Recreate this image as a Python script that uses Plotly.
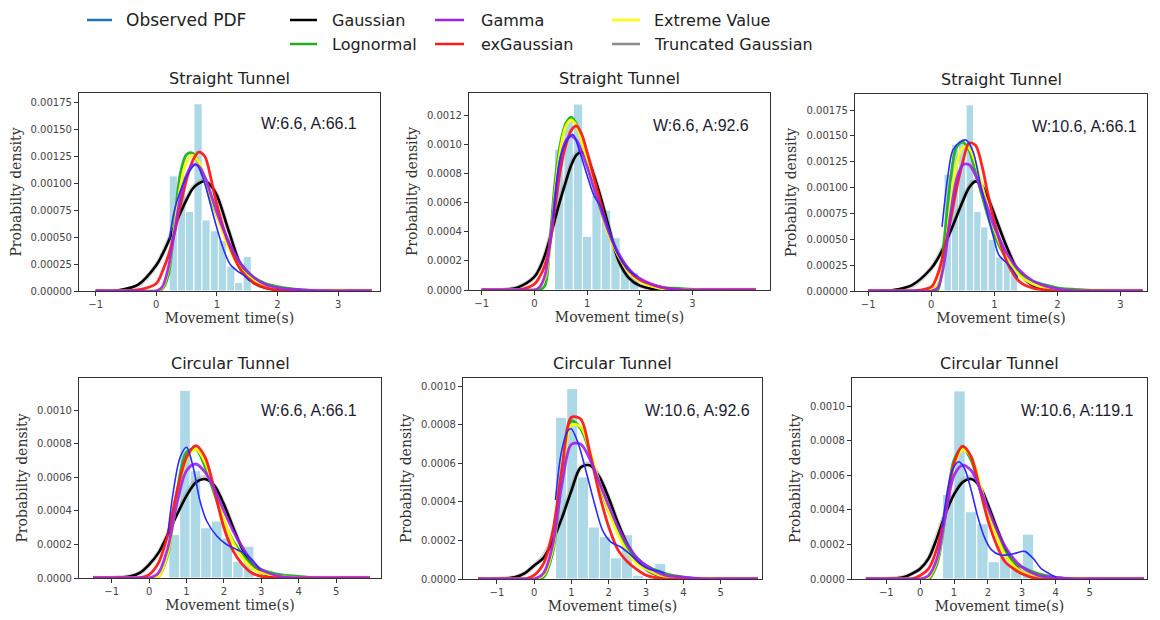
import plotly.graph_objects as go
from plotly.subplots import make_subplots

# ---------------- data ----------------
TITLES = ["Straight Tunnel", "Straight Tunnel", "Straight Tunnel",
          "Circular Tunnel", "Circular Tunnel", "Circular Tunnel"]
CONDITIONS = ["W:6.6, A:66.1", "W:6.6, A:92.6", "W:10.6, A:66.1",
              "W:6.6, A:66.1", "W:10.6, A:92.6", "W:10.6, A:119.1"]
LEGEND_ROW1 = ["Observed PDF", "Gaussian", "Gamma", "Extreme Value"]
LEGEND_ROW2 = ["Lognormal", "exGaussian", "Truncated Gaussian"]

# ---- panel 1 ----
P1_BIN_X = [0.28, 0.42, 0.55, 0.69, 0.82, 0.96, 1.09, 1.23, 1.36, 1.50]
P1_BIN_H = [0.00107, 0.00107, 0.00074, 0.00174, 0.00066, 0.00056, 0.00047, 0.00023, 0.00008, 0.00032]
P1_GRID = [-1.0, -0.6, -0.3, 0.0, 0.1, 0.2, 0.3, 0.4, 0.5, 0.6, 0.7, 0.8, 0.9, 1.0, 1.2, 1.4, 1.6, 1.8, 2.0, 2.4, 2.8, 3.2, 3.55]
P1_GAUSS = [0, 0.00001, 0.00006, 0.00024, 0.00034, 0.00046, 0.0006, 0.00073, 0.00085, 0.00095, 0.001, 0.00102, 0.00098, 0.00089, 0.00055, 0.00023, 0.00008, 0.00003, 0.00001, 0, 0, 0, 0]
P1_TRUNC = [0, 0, 0.00005, 0.00024, 0.00034, 0.00047, 0.00061, 0.00074, 0.00086, 0.00096, 0.00101, 0.00103, 0.00098, 0.00089, 0.00055, 0.00023, 0.00008, 0.00003, 0.00001, 0, 0, 0, 0]
P1_LOGN = [0, 0, 0, 0, 0.00002, 0.00015, 0.00064, 0.0011, 0.00127, 0.00128, 0.00119, 0.00102, 0.00085, 0.0007, 0.00043, 0.00024, 0.00013, 0.00007, 0.00004, 0.00001, 0, 0, 0]
P1_EXG = [0, 0, 0.00001, 0.00007, 0.00018, 0.00033, 0.00054, 0.0008, 0.00104, 0.00121, 0.00129, 0.00125, 0.00105, 0.0008, 0.00043, 0.00019, 0.00008, 0.00003, 0.00001, 0, 0, 0, 0]
P1_GAMMA = [0, 0, 0, 0, 0.00004, 0.00022, 0.00055, 0.00088, 0.00108, 0.00117, 0.00116, 0.00106, 0.0009, 0.00073, 0.00045, 0.00025, 0.00013, 0.00006, 0.00003, 0.00001, 0, 0, 0]
P1_EXTR = [0, 0, 0, 0, 0.00003, 0.0002, 0.00058, 0.00098, 0.0012, 0.00126, 0.0012, 0.00105, 0.00088, 0.0007, 0.0004, 0.0002, 0.0001, 0.00004, 0.00002, 0, 0, 0, 0]
P1_OBS_X = [0.215, 0.3, 0.39, 0.47, 0.556, 0.655, 0.776, 0.886, 0.997, 1.107, 1.216, 1.327, 1.436, 1.546]
P1_OBS_Y = [0.00048, 0.00075, 0.00092, 0.00103, 0.00112, 0.00118, 0.00104, 0.00082, 0.00059, 0.00039, 0.00025, 0.00019, 0.00015, 0.00009]

# ---- panel 2 ----
P2_BIN_X = [0.47, 0.65, 0.83, 1.00, 1.18, 1.36, 1.54, 1.72, 1.89]
P2_BIN_H = [0.00097, 0.00116, 0.00128, 0.00037, 0.00065, 0.00055, 0.00036, 0.00016, 0.00012]
P2_GRID = [-1.0, -0.6, -0.3, 0.0, 0.1, 0.2, 0.3, 0.4, 0.5, 0.6, 0.7, 0.8, 0.9, 1.0, 1.2, 1.4, 1.6, 1.8, 2.0, 2.4, 2.8, 3.2, 3.6, 4.2]
P2_GAUSS = [0, 0, 0.00002, 0.00009, 0.00015, 0.00024, 0.00036, 0.0005, 0.00063, 0.00075, 0.00086, 0.00093, 0.00095, 0.00091, 0.00071, 0.00045, 0.0002, 0.00008, 0.00003, 0, 0, 0, 0, 0]
P2_TRUNC = [0, 0, 0.00002, 0.00009, 0.00015, 0.00024, 0.00037, 0.00051, 0.00064, 0.00076, 0.00087, 0.00094, 0.00096, 0.00092, 0.00071, 0.00045, 0.0002, 0.00008, 0.00003, 0, 0, 0, 0, 0]
P2_LOGN = [0, 0, 0, 0, 0, 0.00003, 0.00036, 0.00077, 0.00102, 0.00115, 0.00119, 0.00114, 0.00103, 0.0009, 0.00063, 0.0004, 0.00024, 0.00014, 0.00007, 0.00002, 0.00001, 0, 0, 0]
P2_EXG = [0, 0, 0, 0.00004, 0.00009, 0.00017, 0.00033, 0.00059, 0.00084, 0.001, 0.0011, 0.00113, 0.00107, 0.00095, 0.00068, 0.00042, 0.00024, 0.00013, 0.00007, 0.00002, 0, 0, 0, 0]
P2_GAMMA = [0, 0, 0, 0, 0.00002, 0.0001, 0.00033, 0.00066, 0.00091, 0.00103, 0.00106, 0.00103, 0.00095, 0.00085, 0.00062, 0.00041, 0.00025, 0.00014, 0.00008, 0.00002, 0, 0, 0, 0]
P2_EXTR = [0, 0, 0, 0, 0.00002, 0.00008, 0.0003, 0.0007, 0.00098, 0.00113, 0.00117, 0.00113, 0.00102, 0.00089, 0.00062, 0.00039, 0.00023, 0.00012, 0.00006, 0.00001, 0, 0, 0, 0]
P2_OBS_X = [0.36, 0.49, 0.62, 0.73, 0.87, 1.0, 1.13, 1.25, 1.41, 1.57, 1.76, 1.95]
P2_OBS_Y = [0.00049, 0.00091, 0.00103, 0.00107, 0.00094, 0.00079, 0.00065, 0.00058, 0.00042, 0.00026, 0.00015, 0.00009]

# ---- panel 3 ----
P3_BIN_X = [0.26, 0.38, 0.49, 0.61, 0.73, 0.84, 0.96, 1.08, 1.20, 1.31]
P3_BIN_H = [0.00113, 0.00142, 0.00145, 0.0018, 0.00077, 0.00062, 0.0005, 0.00033, 0.00028, 0.00017]
P3_GRID = [-1.0, -0.6, -0.3, 0.0, 0.1, 0.2, 0.3, 0.4, 0.5, 0.6, 0.7, 0.8, 0.9, 1.0, 1.2, 1.4, 1.6, 1.8, 2.0, 2.4, 2.8, 3.1, 3.35]
P3_GAUSS = [0, 0.00001, 0.00006, 0.00022, 0.00031, 0.00043, 0.00057, 0.00072, 0.00087, 0.001, 0.00106, 0.00102, 0.0009, 0.00074, 0.00042, 0.00017, 0.00006, 0.00002, 0, 0, 0, 0, 0]
P3_TRUNC = [0, 0, 0.00005, 0.00022, 0.00032, 0.00044, 0.00058, 0.00073, 0.00088, 0.00101, 0.00107, 0.00103, 0.0009, 0.00074, 0.00042, 0.00017, 0.00006, 0.00002, 0, 0, 0, 0, 0]
P3_LOGN = [0, 0, 0, 0, 0.00001, 0.00047, 0.00106, 0.00139, 0.00144, 0.00136, 0.00115, 0.00093, 0.00072, 0.00054, 0.00031, 0.00018, 0.0001, 0.00006, 0.00003, 0.00001, 0, 0, 0]
P3_EXG = [0, 0, 0, 0.00004, 0.00016, 0.00038, 0.00067, 0.00099, 0.00125, 0.00143, 0.00141, 0.00122, 0.00093, 0.00067, 0.00028, 0.00009, 0.00003, 0.00001, 0, 0, 0, 0, 0]
P3_GAMMA = [0, 0, 0, 0, 0.00003, 0.00026, 0.00072, 0.00108, 0.00122, 0.00122, 0.00112, 0.00096, 0.00079, 0.00062, 0.00036, 0.0002, 0.0001, 0.00005, 0.00002, 0, 0, 0, 0]
P3_EXTR = [0, 0, 0, 0.00001, 0.00006, 0.0003, 0.00079, 0.00122, 0.00139, 0.00138, 0.00124, 0.00103, 0.0008, 0.0006, 0.00031, 0.00015, 0.00007, 0.00003, 0.00001, 0, 0, 0, 0]
P3_OBS_X = [0.17, 0.26, 0.34, 0.45, 0.55, 0.66, 0.77, 0.88, 0.99, 1.07, 1.18, 1.26, 1.37]
P3_OBS_Y = [0.00062, 0.0011, 0.00136, 0.00144, 0.00146, 0.00135, 0.00106, 0.00077, 0.00051, 0.00035, 0.00028, 0.00023, 0.00013]

# ---- panel 4 ----
P4_BIN_X = [0.67, 0.96, 1.24, 1.52, 1.81, 2.09, 2.38, 2.66]
P4_BIN_H = [0.00026, 0.00112, 0.00064, 0.0003, 0.00034, 0.00024, 0.0001, 0.00019]
P4_GRID = [-1.5, -1.0, -0.5, -0.25, 0.0, 0.25, 0.5, 0.75, 1.0, 1.25, 1.5, 1.75, 2.0, 2.25, 2.5, 2.75, 3.0, 3.5, 4.0, 4.5, 5.0, 5.9]
P4_GAUSS = [0, 0, 0.00001, 0.00003, 0.00008, 0.00015, 0.00026, 0.00038, 0.00049, 0.00057, 0.00059, 0.00055, 0.00044, 0.0003, 0.00017, 0.00008, 0.00003, 0, 0, 0, 0, 0]
P4_TRUNC = [0, 0, 0.00001, 0.00003, 0.00008, 0.00015, 0.00026, 0.00039, 0.0005, 0.00058, 0.0006, 0.00055, 0.00044, 0.0003, 0.00017, 0.00008, 0.00003, 0, 0, 0, 0, 0]
P4_LOGN = [0, 0, 0, 0, 0, 0.00001, 0.00014, 0.00052, 0.00075, 0.00077, 0.00066, 0.0005, 0.00034, 0.00022, 0.00014, 0.00008, 0.00005, 0.00002, 0.00001, 0, 0, 0]
P4_EXG = [0, 0, 0, 0, 0.00002, 0.00009, 0.00026, 0.00052, 0.00072, 0.00079, 0.00072, 0.00052, 0.0003, 0.00016, 0.00008, 0.00003, 0.00001, 0, 0, 0, 0, 0]
P4_GAMMA = [0, 0, 0, 0, 0, 0.00003, 0.00018, 0.00045, 0.00064, 0.00068, 0.00063, 0.00053, 0.0004, 0.00028, 0.00018, 0.0001, 0.00005, 0.00001, 0, 0, 0, 0]
P4_EXTR = [0, 0, 0, 0, 0, 0.00001, 0.00015, 0.00048, 0.00071, 0.00077, 0.00069, 0.00052, 0.00035, 0.00021, 0.00012, 0.00006, 0.00003, 0.00001, 0, 0, 0, 0]
P4_OBS_X = [0.5, 0.65, 0.83, 1.0, 1.18, 1.36, 1.54, 1.81, 2.07, 2.34, 2.61, 2.79, 2.97]
P4_OBS_Y = [0.00026, 0.00052, 0.00072, 0.00078, 0.00066, 0.00046, 0.00034, 0.00025, 0.0002, 0.00017, 0.00014, 0.0001, 0.00005]

# ---- panel 5 ----
P5_BIN_X = [0.72, 1.02, 1.31, 1.60, 1.90, 2.19, 2.49, 2.78, 3.08, 3.38]
P5_BIN_H = [0.00084, 0.00099, 0.00053, 0.00027, 0.00022, 0.00011, 0.00023, 0.00002, 0, 0.00008]
P5_GRID = [-1.5, -1.0, -0.5, -0.25, 0.0, 0.25, 0.5, 0.75, 1.0, 1.25, 1.5, 1.75, 2.0, 2.25, 2.5, 2.75, 3.0, 3.5, 4.0, 4.5, 5.0, 6.0]
P5_GAUSS = [0, 0, 0.00001, 0.00003, 0.00007, 0.00011, 0.0002, 0.00032, 0.00046, 0.00058, 0.00059, 0.00053, 0.00042, 0.00029, 0.00018, 0.0001, 0.00005, 0.00001, 0, 0, 0, 0]
P5_TRUNC = [0, 0, 0.00001, 0.00003, 0.00007, 0.00012, 0.00021, 0.00033, 0.00047, 0.00058, 0.0006, 0.00053, 0.00042, 0.00029, 0.00018, 0.0001, 0.00005, 0.00001, 0, 0, 0, 0]
P5_LOGN = [0, 0, 0, 0, 0, 0.00001, 0.00014, 0.00056, 0.00082, 0.00078, 0.00065, 0.00049, 0.00035, 0.00025, 0.00016, 0.00011, 0.00007, 0.00003, 0.00001, 0, 0, 0]
P5_EXG = [0, 0, 0, 0, 0.00002, 0.00008, 0.00025, 0.00058, 0.00084, 0.00083, 0.00065, 0.00044, 0.00027, 0.00015, 0.00009, 0.00005, 0.00002, 0, 0, 0, 0, 0]
P5_GAMMA = [0, 0, 0, 0, 0, 0.00003, 0.00018, 0.0005, 0.0007, 0.0007, 0.00062, 0.0005, 0.00038, 0.00027, 0.00018, 0.00011, 0.00007, 0.00002, 0.00001, 0, 0, 0]
P5_EXTR = [0, 0, 0, 0, 0, 0.00002, 0.00016, 0.00055, 0.0008, 0.00079, 0.00066, 0.0005, 0.00035, 0.00023, 0.00014, 0.00008, 0.00005, 0.00001, 0, 0, 0, 0]
P5_OBS_X = [0.57, 0.73, 0.9, 0.99, 1.17, 1.39, 1.62, 1.84, 2.07, 2.29, 2.56, 2.83, 3.09, 3.36, 3.5]
P5_OBS_Y = [0.00041, 0.00066, 0.00077, 0.00078, 0.00071, 0.00056, 0.00039, 0.00025, 0.00019, 0.00017, 0.00013, 0.00008, 0.00005, 0.00004, 0.00003]

# ---- panel 6 ----
P6_BIN_X = [0.83, 1.16, 1.50, 1.84, 2.17, 2.51, 2.84, 3.18]
P6_BIN_H = [0.00049, 0.00109, 0.00039, 0.00032, 0.0001, 0.00013, 0.00008, 0.00026]
P6_GRID = [-1.6, -1.0, -0.5, -0.25, 0.0, 0.25, 0.5, 0.75, 1.0, 1.25, 1.5, 1.75, 2.0, 2.25, 2.5, 2.75, 3.0, 3.5, 4.0, 4.5, 5.0, 6.6]
P6_GAUSS = [0, 0, 0.00001, 0.00003, 0.00006, 0.00012, 0.00024, 0.00038, 0.00049, 0.00056, 0.00058, 0.00054, 0.00043, 0.0003, 0.00018, 0.00009, 0.00004, 0.00001, 0, 0, 0, 0]
P6_TRUNC = [0, 0, 0.00001, 0.00003, 0.00006, 0.00012, 0.00025, 0.00039, 0.0005, 0.00057, 0.00059, 0.00054, 0.00043, 0.0003, 0.00018, 0.00009, 0.00004, 0.00001, 0, 0, 0, 0]
P6_LOGN = [0, 0, 0, 0, 0, 0, 0.00009, 0.00038, 0.00069, 0.00076, 0.00069, 0.00053, 0.00038, 0.00026, 0.00016, 0.0001, 0.00007, 0.00003, 0.00001, 0, 0, 0]
P6_EXG = [0, 0, 0, 0, 0.00002, 0.00006, 0.00018, 0.0004, 0.00067, 0.00077, 0.00071, 0.00053, 0.00034, 0.0002, 0.0001, 0.00006, 0.00003, 0, 0, 0, 0, 0]
P6_GAMMA = [0, 0, 0, 0, 0, 0.00002, 0.00012, 0.00037, 0.0006, 0.00066, 0.00063, 0.00053, 0.00041, 0.00029, 0.00019, 0.00012, 0.00007, 0.00002, 0.00001, 0, 0, 0]
P6_EXTR = [0, 0, 0, 0, 0, 0.00001, 0.00011, 0.00038, 0.00066, 0.00075, 0.00071, 0.00056, 0.00039, 0.00025, 0.00014, 0.00008, 0.00004, 0.00001, 0, 0, 0, 0]
P6_OBS_X = [0.65, 0.82, 0.97, 1.14, 1.31, 1.51, 1.7, 1.9, 2.1, 2.34, 2.59, 2.83, 3.08, 3.33, 3.57, 3.82, 4.01]
P6_OBS_Y = [0.0003, 0.00053, 0.00064, 0.00068, 0.00064, 0.00051, 0.00036, 0.00024, 0.00017, 0.00014, 0.00014, 0.00015, 0.00016, 0.00012, 0.00006, 0.00003, 0.00001]

# axis ticks
X_TICKS_TOP = [-1, 0, 1, 2, 3]
X_TICKS_BOTTOM = [-1, 0, 1, 2, 3, 4, 5]
Y_TICKS_A = [0, 0.00025, 0.0005, 0.00075, 0.001, 0.00125, 0.0015, 0.00175]
Y_TICKS_B = [0, 0.0002, 0.0004, 0.0006, 0.0008, 0.001, 0.0012]
Y_TICKS_C = [0, 0.0002, 0.0004, 0.0006, 0.0008, 0.001]

# ---------------- styling / layout ----------------
panels = [
    dict(bx=P1_BIN_X, bh=P1_BIN_H, bw=0.135, grid=P1_GRID, gauss=P1_GAUSS, trunc=P1_TRUNC, logn=P1_LOGN,
         exg=P1_EXG, gamma=P1_GAMMA, extr=P1_EXTR, ox=P1_OBS_X, oy=P1_OBS_Y,
         xr=[-1.275, 3.69], yr=[0, 0.00184], xt=X_TICKS_TOP, yt=Y_TICKS_A, yf=".5f",
         dom_x=[79, 380], dom_y=[93, 291], ann=(-21, -30)),
    dict(bx=P2_BIN_X, bh=P2_BIN_H, bw=0.178, grid=P2_GRID, gauss=P2_GAUSS, trunc=P2_TRUNC, logn=P2_LOGN,
         exg=P2_EXG, gamma=P2_GAMMA, extr=P2_EXTR, ox=P2_OBS_X, oy=P2_OBS_Y,
         xr=[-1.24, 4.47], yr=[0, 0.001356], xt=X_TICKS_TOP, yt=Y_TICKS_B, yf=".4f",
         dom_x=[469, 770], dom_y=[93, 290], ann=(-19, -32)),
    dict(bx=P3_BIN_X, bh=P3_BIN_H, bw=0.117, grid=P3_GRID, gauss=P3_GAUSS, trunc=P3_TRUNC, logn=P3_LOGN,
         exg=P3_EXG, gamma=P3_GAMMA, extr=P3_EXTR, ox=P3_OBS_X, oy=P3_OBS_Y,
         xr=[-1.21, 3.42], yr=[0, 0.001905], xt=X_TICKS_TOP, yt=Y_TICKS_A, yf=".5f",
         dom_x=[855, 1147], dom_y=[94, 291], ann=(-8, -33)),
    dict(bx=P4_BIN_X, bh=P4_BIN_H, bw=0.284, grid=P4_GRID, gauss=P4_GAUSS, trunc=P4_TRUNC, logn=P4_LOGN,
         exg=P4_EXG, gamma=P4_GAMMA, extr=P4_EXTR, ox=P4_OBS_X, oy=P4_OBS_Y,
         xr=[-1.874, 6.2], yr=[0, 0.001193], xt=X_TICKS_BOTTOM, yt=Y_TICKS_C, yf=".4f",
         dom_x=[79, 381], dom_y=[378, 578], ann=(-22, -32)),
    dict(bx=P5_BIN_X, bh=P5_BIN_H, bw=0.295, grid=P5_GRID, gauss=P5_GAUSS, trunc=P5_TRUNC, logn=P5_LOGN,
         exg=P5_EXG, gamma=P5_GAMMA, extr=P5_EXTR, ox=P5_OBS_X, oy=P5_OBS_Y,
         xr=[-1.91, 6.11], yr=[0, 0.001044], xt=X_TICKS_BOTTOM, yt=Y_TICKS_C, yf=".4f",
         dom_x=[463, 762], dom_y=[378, 579], ann=(-10, -32)),
    dict(bx=P6_BIN_X, bh=P6_BIN_H, bw=0.336, grid=P6_GRID, gauss=P6_GAUSS, trunc=P6_TRUNC, logn=P6_LOGN,
         exg=P6_EXG, gamma=P6_GAMMA, extr=P6_EXTR, ox=P6_OBS_X, oy=P6_OBS_Y,
         xr=[-2.01, 6.69], yr=[0, 0.001165], xt=X_TICKS_BOTTOM, yt=Y_TICKS_C, yf=".4f",
         dom_x=[852, 1147], dom_y=[378, 579], ann=(-12, -32)),
]

W, H = 1160, 620
OFF = 8  # page body margin offset of the html page
C_BAR = "#add8e6"
C_GAUSS = "#000000"
C_TRUNC = "#8c8c8c"
C_LOGN = "#1fb01f"
C_EXG = "#ff1a1a"
C_GAMMA = "#a020f0"
C_EXTR = "#ffff00"
C_OBS = "#2a2aff"
C_OBS_LEG = "#1f77b4"
AX_COL = "#333333"


def px_x(v):
    return (v - OFF) / W


def px_y(v):
    return 1 - (v - OFF) / H


fig = make_subplots(rows=2, cols=3)

for i, p in enumerate(panels):
    r, c = i // 3 + 1, i % 3 + 1
    fig.add_trace(go.Bar(x=p["bx"], y=p["bh"], width=p["bw"],
                         marker=dict(color=C_BAR, line=dict(color="white", width=1)),
                         showlegend=False, hoverinfo="skip"), row=r, col=c)
    curves = [
        (p["trunc"], C_TRUNC, 4.5, 0.35),
        (p["gauss"], C_GAUSS, 2.6, 1.0),
        (p["logn"], C_LOGN, 2.8, 0.95),
        (p["extr"], C_EXTR, 2.8, 0.95),
        (p["exg"], C_EXG, 2.8, 0.95),
        (p["gamma"], C_GAMMA, 2.8, 0.9),
    ]
    for ys, col, wdt, op in curves:
        fig.add_trace(go.Scatter(x=p["grid"], y=ys, mode="lines",
                                 line=dict(color=col, width=wdt, shape="spline", smoothing=0.9),
                                 opacity=op, showlegend=False, hoverinfo="skip"), row=r, col=c)
    fig.add_trace(go.Scatter(x=p["ox"], y=p["oy"], mode="lines",
                             line=dict(color=C_OBS, width=1.6, shape="spline", smoothing=0.9),
                             showlegend=False, hoverinfo="skip"), row=r, col=c)

layout_updates = {}
annotations = []
for i, p in enumerate(panels):
    sfx = "" if i == 0 else str(i + 1)
    x0, x1 = p["dom_x"]
    y0, y1 = p["dom_y"]
    layout_updates["xaxis" + sfx] = dict(
        domain=[px_x(x0), px_x(x1)], range=p["xr"], tickvals=p["xt"], automargin=False,
        showline=True, linecolor=AX_COL, linewidth=1.2, mirror=True,
        ticks="outside", ticklen=4, tickcolor=AX_COL, showgrid=False, zeroline=False,
        tickfont=dict(family="DejaVu Sans", size=10, color="#444"),
        title=dict(text="Movement time(s)", standoff=4,
                   font=dict(family="DejaVu Serif", size=14, color="#333")))
    layout_updates["yaxis" + sfx] = dict(
        domain=[px_y(y1), px_y(y0)], range=p["yr"], tickvals=p["yt"], tickformat=p["yf"],
        automargin=False,
        showline=True, linecolor=AX_COL, linewidth=1.2, mirror=True,
        ticks="outside", ticklen=4, tickcolor=AX_COL, showgrid=False, zeroline=False,
        tickfont=dict(family="DejaVu Sans", size=10, color="#444"),
        title=dict(text="Probabilty density", standoff=6,
                   font=dict(family="DejaVu Serif", size=14, color="#333")))
    xd = "x" + sfx + " domain"
    yd = "y" + sfx + " domain"
    annotations.append(dict(text=TITLES[i], xref=xd, yref=yd, x=0.5, y=1, xanchor="center",
                            yanchor="bottom", yshift=3, showarrow=False,
                            font=dict(family="DejaVu Sans", size=16, color="#222")))
    annotations.append(dict(text=CONDITIONS[i], xref=xd, yref=yd, x=1, y=1, xanchor="right",
                            yanchor="middle", xshift=p["ann"][0], yshift=p["ann"][1], showarrow=False,
                            font=dict(family="Liberation Sans", size=16, color="#1c1c30")))

# manual legend (two rows)
shapes = []
legend_items = [
    (LEGEND_ROW1[0], C_OBS_LEG, 87, 112, 124, 20, "DejaVu Sans", 17),
    (LEGEND_ROW1[1], C_GAUSS, 290, 317, 330, 20, "DejaVu Sans", 16),
    (LEGEND_ROW1[2], C_GAMMA, 435, 464, 479, 20, "DejaVu Sans", 16),
    (LEGEND_ROW1[3], C_EXTR, 612, 640, 652, 20, "DejaVu Sans", 16),
    (LEGEND_ROW2[0], C_LOGN, 290, 317, 330, 44, "DejaVu Sans", 16),
    (LEGEND_ROW2[1], C_EXG, 435, 464, 479, 44, "DejaVu Sans", 16),
    (LEGEND_ROW2[2], C_TRUNC, 612, 640, 652, 44, "DejaVu Sans", 16),
]
for name, col, lx0, lx1, tx, yy, fam, fs in legend_items:
    shapes.append(dict(type="line", xref="paper", yref="paper",
                       x0=px_x(lx0), x1=px_x(lx1), y0=px_y(yy), y1=px_y(yy),
                       line=dict(color=col, width=2.5)))
    annotations.append(dict(text=name, xref="paper", yref="paper", x=px_x(tx), y=px_y(yy),
                            xanchor="left", yanchor="middle", showarrow=False,
                            font=dict(family=fam, size=fs, color="#222")))

fig.update_layout(**layout_updates)
fig.update_layout(width=W, height=H, margin=dict(l=0, r=0, t=0, b=0, autoexpand=False),
                  paper_bgcolor="white", plot_bgcolor="white",
                  annotations=annotations, shapes=shapes, barmode="overlay")

fig.write_html("out.html")
